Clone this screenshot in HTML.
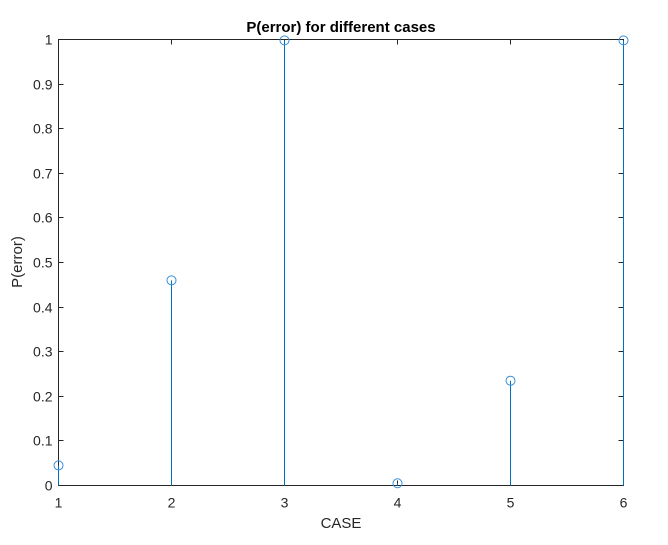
<!DOCTYPE html>
<html><head><meta charset="utf-8"><style>
body{margin:0;background:#fff;}
svg{display:block;font-family:"Liberation Sans",sans-serif;}
</style></head><body>
<svg id="chart" width="668" height="545">
<rect width="668" height="545" fill="#fff"/>
<text x="341" y="32" text-anchor="middle" font-size="15" font-weight="bold" fill="#000">P(error) for different cases</text>
<g id="axes"></g>
<g id="marks"></g>
<text x="341" y="528" text-anchor="middle" font-size="15" fill="#262626">CASE</text>
<text transform="translate(22,262) rotate(-90)" text-anchor="middle" font-size="15" fill="#262626">P(error)</text>
</svg>
<script>
const categories=[1,2,3,4,5,6];
const values=[0.045,0.46,0.998,0.005,0.235,0.998];
const xTicks=[1,2,3,4,5,6];
const yTicks=[0,0.1,0.2,0.3,0.4,0.5,0.6,0.7,0.8,0.9,1];
const L=58.5,R=623.5,T=39.5,B=485.5;
const xs=v=>L+(v-1)/5*(R-L);
const ys=v=>B-v*(B-T);
const NS="http://www.w3.org/2000/svg";
const axes=document.getElementById('axes'),marks=document.getElementById('marks');
function mk(tag,attrs,parent){const e=document.createElementNS(NS,tag);for(const k in attrs)e.setAttribute(k,attrs[k]);parent.appendChild(e);return e;}
const box=mk('rect',{x:L,y:T,width:R-L,height:B-T,fill:'none',stroke:'#262626','stroke-width':1},axes);


xTicks.forEach(t=>{const x=xs(t);
mk('line',{x1:x,x2:x,y1:B,y2:B-5,stroke:'#262626'},axes);
mk('line',{x1:x,x2:x,y1:T,y2:T+5,stroke:'#262626'},axes);
const tx=mk('text',{x:x,y:B+22,'text-anchor':'middle','font-size':14,fill:'#262626'},axes);tx.textContent=t;


});
yTicks.forEach(t=>{const y=Math.round(ys(t)-0.5)+0.5;
mk('line',{x1:L,x2:L+5,y1:y,y2:y,stroke:'#262626'},axes);
mk('line',{x1:R,x2:R-5,y1:y,y2:y,stroke:'#262626'},axes);
const tx=mk('text',{x:L-6,y:y+5,'text-anchor':'end','font-size':14,fill:'#262626'},axes);tx.textContent=t;


});
categories.forEach((c,i)=>{const x=xs(c),y=ys(values[i]);
const s=mk('line',{x1:x,x2:x,y1:B,y2:y,stroke:'#0072BD','stroke-width':1},marks);


const m=mk('circle',{cx:x,cy:y,r:4.5,fill:'none',stroke:'#3a8fdb','stroke-width':1},marks);


});
</script>
</body></html>
